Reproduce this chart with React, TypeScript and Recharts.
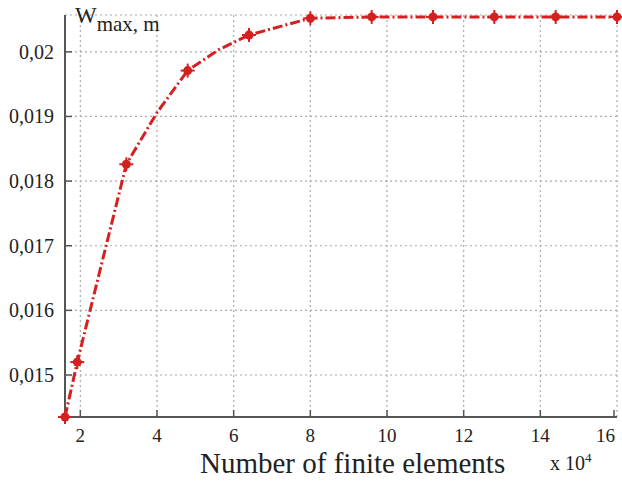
import React from "react";
import { LineChart, Line, XAxis, YAxis, CartesianGrid } from "recharts";

const elements = [1.6, 1.92, 3.2, 4.0, 4.8, 5.6, 6.4, 8, 9.6, 11.2, 12.8, 14.4, 16];
const wmax = [0.01435, 0.0152, 0.01826, 0.01906, 0.01971, 0.02003, 0.02026, 0.02052, 0.02054, 0.02054, 0.02054, 0.02054, 0.02054];
const hasMarker = [true, true, true, false, true, false, true, true, true, true, true, true, true];
const xTicks = [2, 4, 6, 8, 10, 12, 14, 16];
const yTicks = [0.015, 0.016, 0.017, 0.018, 0.019, 0.02];

const data = elements.map((x, i) => ({ x, y: wmax[i], m: hasMarker[i] }));

const RED = "#d42020";
const FONT = "Liberation Serif";

const Marker = (props: any) => {
  const { cx, cy, payload, index } = props;
  if (!payload || !payload.m || cx == null || cy == null) return <g key={"d" + index} />;
  return (
    <g key={"d" + index}>
      <circle cx={cx} cy={cy} r={4.5} fill={RED} />
      <line x1={cx - 7} x2={cx + 7} y1={cy} y2={cy} stroke={RED} strokeWidth={2} />
      <line x1={cx} x2={cx} y1={cy - 7} y2={cy + 7} stroke={RED} strokeWidth={2} />
    </g>
  );
};

const XTick = (props: any) => {
  const { x, y, payload } = props;
  const last = payload.value === 16;
  return (
    <g>
      <line x1={x} x2={x} y1={y - 1} y2={y - 7} stroke="#555" strokeWidth={1.5} />
      <text
        x={last ? x + 1 : x}
        y={y + 25}
        textAnchor={last ? "end" : "middle"}
        fontFamily={FONT}
        fontSize={19}
        fill="#222"
      >
        {payload.value}
      </text>
    </g>
  );
};

const YTick = (props: any) => {
  const { x, y, payload } = props;
  return (
    <g>
      <line x1={x + 1} x2={x + 7} y1={y} y2={y} stroke="#555" strokeWidth={1.5} />
      <text x={x - 11} y={y + 7} textAnchor="end" fontFamily={FONT} fontSize={20} fill="#222">
        {String(payload.value).replace(".", ",")}
      </text>
    </g>
  );
};

export default function App() {
  return (
    <div style={{ position: "absolute", left: 0, top: 0, width: 622, height: 481, background: "#fff", fontFamily: "Liberation Serif, serif" }}>
      <LineChart width={622} height={481} data={data} margin={{ top: 15, right: 5, bottom: 0, left: 0 }}>
        <CartesianGrid stroke="#aaa" strokeDasharray="2 3" strokeWidth={1.2} />
        <XAxis
          dataKey="x"
          type="number"
          domain={[1.6, 16]}
          ticks={xTicks}
          height={64}
          axisLine={{ stroke: "#555", strokeWidth: 2 }}
          tickLine={false}
          tickSize={0}
          tickMargin={0}
          tick={<XTick />}
        />
        <YAxis
          type="number"
          domain={[0.01435, 0.02057]}
          ticks={yTicks}
          width={65}
          axisLine={{ stroke: "#555", strokeWidth: 2 }}
          tickLine={false}
          tickSize={0}
          tickMargin={0}
          tick={<YTick />}
        />
        <Line
          type="linear"
          dataKey="y"
          stroke={RED}
          strokeWidth={3}
          strokeDasharray="10 3 2 3"
          dot={<Marker />}
          activeDot={false}
          isAnimationActive={false}
        />
      </LineChart>
      <div style={{ position: "absolute", left: 75, top: 4, color: "#222", whiteSpace: "nowrap", lineHeight: 1 }}>
        <span style={{ fontSize: 23 }}>W</span>
        <span style={{ fontSize: 21, position: "relative", top: 8 }}>max, m</span>
      </div>
      <div style={{ position: "absolute", left: 200, top: 449, fontSize: 29, color: "#222", whiteSpace: "nowrap", lineHeight: 1 }}>
        Number of finite elements
      </div>
      <div style={{ position: "absolute", left: 550, top: 453, fontSize: 20, color: "#222", whiteSpace: "nowrap", lineHeight: 1 }}>
        x 10<span style={{ fontSize: 13, position: "relative", top: -8 }}>4</span>
      </div>
    </div>
  );
}
